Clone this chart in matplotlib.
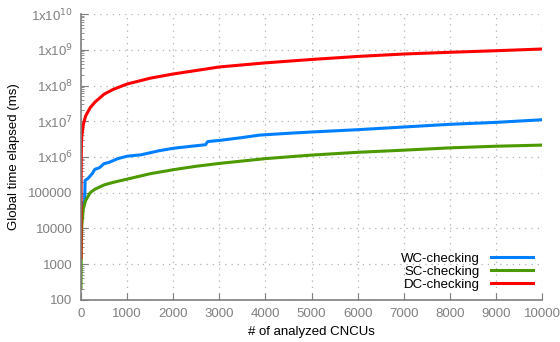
import matplotlib
matplotlib.use("Agg")
import matplotlib.pyplot as plt
from matplotlib.ticker import FixedLocator, LogLocator, NullFormatter

plt.rcParams['font.family'] = ['Liberation Sans', 'DejaVu Sans']

wc_x = [0, 20, 50, 80, 90, 150, 250, 300, 400, 500, 600, 800, 1000, 1300,
        1700, 2000, 2400, 2700, 2750, 3000, 3500, 3880, 4500, 5000, 6000,
        7000, 8000, 9000, 10000]
wc_y = [1e4, 3e4, 5e4, 6e4, 2.2e5, 2.5e5, 3.5e5, 4.5e5, 5e5, 6.5e5, 7e5, 9e5,
        1.05e6, 1.15e6, 1.5e6, 1.75e6, 2e6, 2.2e6, 2.7e6, 2.9e6, 3.5e6, 4.1e6,
        4.6e6, 5e6, 5.8e6, 6.9e6, 8.2e6, 9.3e6, 1.1e7]

sc_x = [0, 5, 10, 20, 50, 100, 200, 300, 500, 700, 1000, 1500, 2000, 2500,
        3000, 4000, 5000, 6000, 7000, 8000, 9000, 10000]
sc_y = [220, 2000, 6000, 1.3e4, 3.5e4, 6e4, 1e5, 1.25e5, 1.65e5, 1.95e5, 2.4e5,
        3.4e5, 4.4e5, 5.5e5, 6.6e5, 9e5, 1.13e6, 1.35e6, 1.55e6, 1.8e6, 2e6,
        2.15e6]

dc_x = [0, 2, 5, 10, 20, 50, 100, 200, 300, 500, 700, 1000, 1500, 2000,
        3000, 4000, 5000, 6000, 7000, 8000, 9000, 10000]
dc_y = [1500, 1e5, 1e6, 2.5e6, 4e6, 8e6, 1.4e7, 2.4e7, 3.4e7, 5.7e7, 7.8e7,
        1.1e8, 1.6e8, 2.1e8, 3.3e8, 4.3e8, 5.35e8, 6.5e8, 7.6e8, 8.5e8, 9.4e8,
        1.05e9]

x_ticks = list(range(0, 10001, 1000))
y_ticks = [1e2, 1e3, 1e4, 1e5, 1e6, 1e7, 1e8, 1e9, 1e10]
y_labels = ['100', '1000', '10000', '100000', r'1x10$^{6}$', r'1x10$^{7}$',
            r'1x10$^{8}$', r'1x10$^{9}$', r'1x10$^{10}$']

fig = plt.figure(figsize=(5.6, 3.42), dpi=100)
ax = fig.add_axes([0.1446, 0.123, 0.8234, 0.836])

gray = '#7f7f7f'
ax.plot(wc_x, wc_y, color='#0080ff', lw=2.2, label='WC-checking')
ax.plot(sc_x, sc_y, color='#4c9a00', lw=2.2, label='SC-checking')
ax.plot(dc_x, dc_y, color='#ff0000', lw=2.2, label='DC-checking')

ax.set_yscale('log')
ax.set_xlim(0, 10000)
ax.set_ylim(100, 1e10)
ax.set_xticks(x_ticks)
ax.set_xticklabels([str(t) for t in x_ticks])
ax.yaxis.set_major_locator(FixedLocator(y_ticks))
ax.set_yticklabels(y_labels)
ax.yaxis.set_minor_locator(LogLocator(base=10, subs=range(2, 10), numticks=20))
ax.yaxis.set_minor_formatter(NullFormatter())

ax.grid(True, which='major', color='#b0b0b0', linestyle=(0, (1, 4)), lw=0.9)
for s in ['top', 'right']:
    ax.spines[s].set_visible(False)
for s in ['left', 'bottom']:
    ax.spines[s].set_color(gray)
    ax.spines[s].set_linewidth(1.2)

ax.tick_params(axis='both', which='major', direction='in', length=5, color=gray,
               labelcolor='#808080', labelsize=9.5, pad=6)
ax.tick_params(axis='y', which='minor', direction='in', length=2.5, color=gray)

ax.set_xlabel('# of analyzed CNCUs', fontsize=9.5, labelpad=4)
ax.set_ylabel('Global time elapsed (ms)', fontsize=9.5, labelpad=6)

ax.legend(loc='lower right', frameon=False, markerfirst=False, fontsize=9.5,
          handlelength=3.2, labelspacing=0.05, borderaxespad=0.3)

fig.savefig('out.png', dpi=100)
